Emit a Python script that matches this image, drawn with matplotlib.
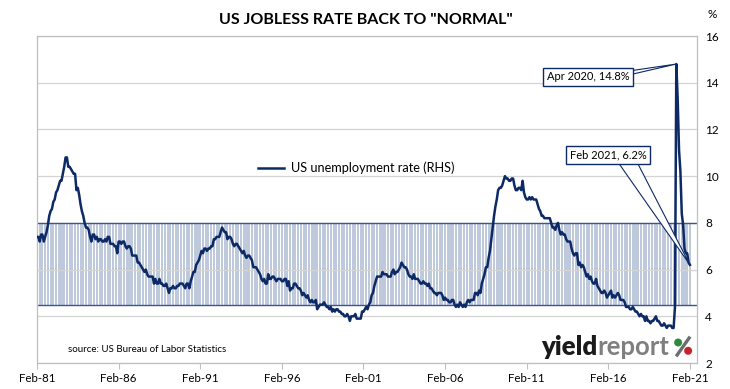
import numpy as np
import matplotlib
matplotlib.use('Agg')
import matplotlib.pyplot as plt
from matplotlib.patches import Circle, Polygon
from matplotlib.lines import Line2D
from matplotlib.transforms import IdentityTransform

plt.rcParams['font.family'] = ['Lato', 'DejaVu Sans']

# US unemployment rate, %, monthly from Feb 1981 to Feb 2021
unemployment_rate = [
    7.4, 7.4, 7.2, 7.5, 7.5, 7.2, 7.4, 7.6, 7.9, 8.3, 8.5,              # 1981 (from Feb)
    8.6, 8.9, 9.0, 9.3, 9.4, 9.6, 9.8, 9.8, 10.1, 10.4, 10.8, 10.8,     # 1982
    10.4, 10.4, 10.3, 10.2, 10.1, 10.1, 9.4, 9.5, 9.2, 8.8, 8.5, 8.3,   # 1983
    8.0, 7.8, 7.8, 7.7, 7.4, 7.2, 7.5, 7.5, 7.3, 7.4, 7.2, 7.3,         # 1984
    7.3, 7.2, 7.2, 7.3, 7.2, 7.4, 7.4, 7.1, 7.1, 7.1, 7.0, 7.0,         # 1985
    6.7, 7.2, 7.2, 7.1, 7.2, 7.2, 7.0, 6.9, 7.0, 7.0, 6.9, 6.6,         # 1986
    6.6, 6.6, 6.6, 6.3, 6.3, 6.2, 6.1, 6.0, 5.9, 6.0, 5.8, 5.7,         # 1987
    5.7, 5.7, 5.7, 5.4, 5.6, 5.4, 5.4, 5.6, 5.4, 5.4, 5.3, 5.3,         # 1988
    5.4, 5.2, 5.0, 5.2, 5.2, 5.3, 5.2, 5.2, 5.3, 5.3, 5.4, 5.4,         # 1989
    5.4, 5.3, 5.2, 5.4, 5.4, 5.2, 5.5, 5.7, 5.9, 5.9, 6.2, 6.3,         # 1990
    6.4, 6.6, 6.8, 6.7, 6.9, 6.9, 6.8, 6.9, 6.9, 7.0, 7.0, 7.3,         # 1991
    7.3, 7.4, 7.4, 7.4, 7.6, 7.8, 7.7, 7.6, 7.6, 7.3, 7.4, 7.4,         # 1992
    7.3, 7.1, 7.0, 7.1, 7.1, 7.0, 6.9, 6.8, 6.7, 6.8, 6.6, 6.5,         # 1993
    6.6, 6.6, 6.5, 6.4, 6.1, 6.1, 6.1, 6.0, 5.9, 5.8, 5.6, 5.5,         # 1994
    5.6, 5.4, 5.4, 5.8, 5.6, 5.6, 5.7, 5.7, 5.6, 5.5, 5.6, 5.6,         # 1995
    5.6, 5.5, 5.5, 5.6, 5.6, 5.3, 5.5, 5.1, 5.2, 5.2, 5.4, 5.4,         # 1996
    5.3, 5.2, 5.2, 5.1, 4.9, 5.0, 4.9, 4.8, 4.9, 4.7, 4.6, 4.7,         # 1997
    4.6, 4.6, 4.7, 4.3, 4.4, 4.5, 4.5, 4.5, 4.6, 4.5, 4.4, 4.4,         # 1998
    4.3, 4.4, 4.2, 4.3, 4.2, 4.3, 4.3, 4.2, 4.2, 4.1, 4.1, 4.0,         # 1999
    4.0, 4.1, 4.0, 3.8, 4.0, 4.0, 4.0, 4.1, 3.9, 3.9, 3.9, 3.9,         # 2000
    4.2, 4.2, 4.3, 4.4, 4.3, 4.5, 4.6, 4.9, 5.0, 5.3, 5.5, 5.7,         # 2001
    5.7, 5.7, 5.7, 5.9, 5.8, 5.8, 5.8, 5.7, 5.7, 5.7, 5.9, 6.0,         # 2002
    5.8, 5.9, 5.9, 6.0, 6.1, 6.3, 6.2, 6.1, 6.1, 6.0, 5.8, 5.7,         # 2003
    5.7, 5.6, 5.8, 5.6, 5.6, 5.6, 5.5, 5.4, 5.4, 5.5, 5.4, 5.4,         # 2004
    5.3, 5.4, 5.2, 5.2, 5.1, 5.0, 5.0, 4.9, 5.0, 5.0, 5.0, 4.9,         # 2005
    4.7, 4.8, 4.7, 4.7, 4.6, 4.6, 4.7, 4.7, 4.5, 4.4, 4.5, 4.4,         # 2006
    4.6, 4.5, 4.4, 4.5, 4.4, 4.6, 4.7, 4.6, 4.7, 4.7, 4.7, 5.0,         # 2007
    5.0, 4.9, 5.1, 5.0, 5.4, 5.6, 5.8, 6.1, 6.1, 6.5, 6.8, 7.3,         # 2008
    7.8, 8.3, 8.7, 9.0, 9.4, 9.5, 9.5, 9.6, 9.8, 10.0, 9.9, 9.9,        # 2009
    9.8, 9.8, 9.9, 9.9, 9.6, 9.4, 9.4, 9.5, 9.5, 9.4, 9.8, 9.3,         # 2010
    9.1, 9.0, 9.0, 9.1, 9.0, 9.1, 9.0, 9.0, 9.0, 8.8, 8.6, 8.5,         # 2011
    8.3, 8.3, 8.2, 8.2, 8.2, 8.2, 8.2, 8.0, 7.8, 7.8, 7.7, 7.9,         # 2012
    8.0, 7.7, 7.5, 7.6, 7.5, 7.5, 7.3, 7.2, 7.2, 7.2, 6.9, 6.7,         # 2013
    6.6, 6.7, 6.7, 6.2, 6.3, 6.1, 6.2, 6.1, 5.9, 5.7, 5.8, 5.6,         # 2014
    5.7, 5.5, 5.4, 5.4, 5.6, 5.3, 5.2, 5.1, 5.0, 5.0, 5.1, 5.0,         # 2015
    4.8, 4.9, 5.0, 5.1, 4.8, 4.9, 4.8, 4.9, 5.0, 4.9, 4.7, 4.7,         # 2016
    4.7, 4.6, 4.4, 4.4, 4.4, 4.3, 4.3, 4.4, 4.3, 4.2, 4.2, 4.1,         # 2017
    4.0, 4.1, 4.0, 4.0, 3.8, 4.0, 3.8, 3.8, 3.7, 3.8, 3.8, 3.9,         # 2018
    4.0, 3.8, 3.8, 3.7, 3.6, 3.6, 3.7, 3.6, 3.5, 3.6, 3.6, 3.6,         # 2019
    3.5, 3.5, 4.4, 14.8, 13.3, 11.1, 10.2, 8.4, 7.9, 6.9, 6.7, 6.7,     # 2020
    6.3, 6.2,                                                           # 2021
]

# "normal" range shown as the striped band
band_low = 4.5
band_high = 8.0

tick_labels = ['Feb-81', 'Feb-86', 'Feb-91', 'Feb-96', 'Feb-01', 'Feb-06',
               'Feb-11', 'Feb-16', 'Feb-21']

rate = np.array(unemployment_rate)
months = np.arange(len(rate))  # months since Feb 1981

navy = '#0d2a66'
W, H = 730, 389

fig = plt.figure(figsize=(W / 100, H / 100), dpi=100)
ax = fig.add_axes([37 / W, 26 / H, 660 / W, 327 / H])

# striped band (one thin column every two months)
ax.bar(months[::2], band_high - band_low, bottom=band_low, width=1.5,
       color='#bfc9dc', linewidth=0, antialiased=False, zorder=1)
ax.axhline(band_high, color='#3a5690', lw=1.0, zorder=2)
ax.axhline(band_low, color='#3a5690', lw=1.0, zorder=2)

ax.plot(months, rate, color=navy, lw=1.8, zorder=4,
        label='US unemployment rate (RHS)')

ax.set_xlim(0, months[-1] + 5.2)
ax.set_ylim(2, 16)
ax.set_yticks(np.arange(2, 17, 2))
ax.yaxis.tick_right()
ax.tick_params(axis='y', length=0, pad=6, labelsize=8.5, colors='#000000')
ax.grid(axis='y', color='#d4d4d4', lw=0.9)
for gl in ax.get_ygridlines():
    gl.set_zorder(1.5)

ax.set_xticks(months[::60])
ax.set_xticklabels(tick_labels)
ax.tick_params(axis='x', length=4, width=0.8, color='#bfbfbf', labelsize=8.3, pad=3)

for s in ax.spines.values():
    s.set_color('#bfbfbf')
    s.set_linewidth(0.9)

fig.text(712 / W, 1 - 15 / H, '%', fontsize=8.5, va='center', ha='center')

fig.text(366 / W, 1 - 20 / H, 'US JOBLESS RATE BACK TO "NORMAL"',
         fontsize=11.5, fontweight='bold', ha='center', va='center')

ax.legend(loc='center', bbox_to_anchor=(0.484, 0.596), frameon=False,
          fontsize=9.2, handlelength=2.0, handletextpad=0.6)

# call-outs: box + thin wedge pointing at the data point
data_to_axes = ax.transData + ax.transAxes.inverted()
box = dict(boxstyle='square,pad=0.3', fc='white', ec=navy, lw=1.0)
peak_i = int(np.argmax(rate))
last_i = len(rate) - 1
callouts = [
    ('Apr 2020, 14.8%', peak_i, (0.835, 0.875), [(0.897, 0.893), (0.897, 0.881)]),
    ('Feb 2021, 6.2%', last_i, (0.865, 0.636), [(0.880, 0.615), (0.909, 0.615)]),
]
for label, i, text_xy, base in callouts:
    apex = data_to_axes.transform((months[i], rate[i]))
    ax.add_patch(Polygon([base[0], tuple(apex), base[1]], closed=True,
                         transform=ax.transAxes, fc='white', ec=navy,
                         lw=0.8, zorder=5))
    ax.text(text_xy[0], text_xy[1], label, transform=ax.transAxes,
            ha='center', va='center', fontsize=8, bbox=box, zorder=6)

ax.text(0.047, 0.028, 'source: US Bureau of Labor Statistics', transform=ax.transAxes,
        fontsize=7, ha='left', va='bottom')

# logo
fig.canvas.draw()
renderer = fig.canvas.get_renderer()
t1 = fig.text(541 / W, 1 - 355 / H, 'yield', fontsize=18.5, fontweight='heavy',
              color='#1a1a1a', va='baseline', ha='left', zorder=7)
bb = t1.get_window_extent(renderer=renderer)
t2 = fig.text(bb.x1 / W, 1 - 355 / H, 'report', fontsize=18.5, fontweight='bold',
              color='#7f7f7f', va='baseline', ha='left', zorder=7)
bb2 = t2.get_window_extent(renderer=renderer)
px = bb2.x1 + 5  # left edge of the % sign, pixels
py = H - 355     # baseline, pixels
fig.add_artist(Line2D([px + 3, px + 15], [py, py + 17], color='#6d6d6d', lw=2.4,
                      transform=IdentityTransform(), zorder=7))
fig.add_artist(Circle((px + 4, py + 12.5), 4.0, fc='#2e8b3e', ec='none',
                      transform=IdentityTransform(), zorder=8))
fig.add_artist(Circle((px + 14, py + 4.2), 4.0, fc='#c8232c', ec='none',
                      transform=IdentityTransform(), zorder=8))

fig.savefig('out.png', dpi=100)
